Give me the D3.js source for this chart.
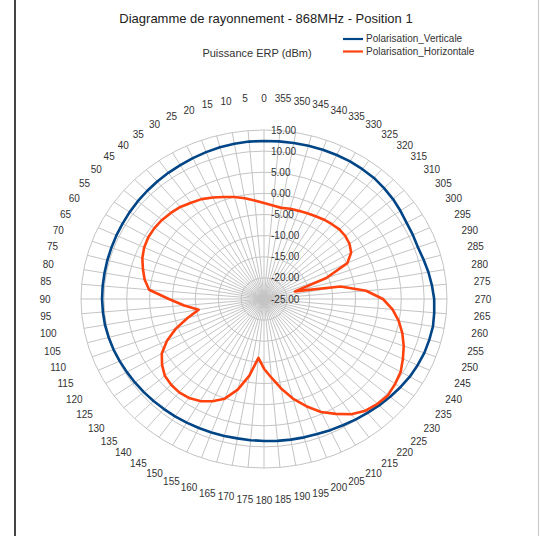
<!DOCTYPE html>
<html><head><meta charset="utf-8">
<script src="https://cdn.jsdelivr.net/npm/d3@7"></script>
<style>html,body{margin:0;padding:0;background:#fff;}svg{display:block;font-family:"Liberation Sans",Arial,sans-serif;}</style>
</head><body>
<svg id="c" width="541" height="536"></svg>
<script>
const angles = d3.range(0, 360, 5);
const angleLabels = angles.map(String);
const radialTicks = [-25, -20, -15, -10, -5, 0, 5, 10, 15];
const seriesNames = ["Polarisation_Verticale", "Polarisation_Horizontale"];
const vertical = [12.4,12.4,12.3,12.2,12.0,11.8,11.6,11.45,11.3,11.15,11.0,10.85,10.7,10.6,10.5,10.45,10.4,10.4,
  10.4,10.35,10.3,10.15,10.0,9.8,9.6,9.45,9.3,9.15,9.0,8.9,8.8,8.7,8.6,8.55,8.5,8.55,
  8.6,8.7,8.8,8.9,9.0,9.25,9.5,9.85,10.2,10.6,11.0,11.4,11.8,12.05,12.3,12.4,12.5,12.35,
  12.2,11.85,11.5,11.1,10.8,10.9,11.0,11.4,11.8,12.1,12.4,12.5,12.6,12.6,12.6,12.55,12.5,12.45];
const horizontal = [-2.3,-1.6,-0.8,0.0,0.7,1.5,2.3,2.8,3.45,3.8,4.1,4.25,4.2,3.9,3.3,2.4,1.5,0.2,
  -4.2,-7.5,-10.5,-7.7,-4.5,-1.6,0.8,2.2,3.3,3.7,3.85,3.6,2.9,1.7,0.1,-2.8,-6.6,-11.0,
  -8.5,-6.3,-3.5,-0.6,2.0,4.5,6.4,8.3,9.5,10.1,10.4,10.0,9.5,8.5,7.5,6.3,4.9,3.2,
  1.0,-2.6,-8.0,-18.0,-10.5,-4.9,-3.0,-2.2,-1.8,-1.7,-1.9,-2.1,-2.4,-2.6,-2.8,-2.9,-3.1,-2.8];
const colors = ["#004586", "#ff420e"];

const svg = d3.select("#c");
const cx = 264, cy = 299, rx = 183, ry = 169;
const r = d3.scaleLinear().domain([-25, 15]).range([0, 1]);
const a = d3.scaleLinear().domain([0, 360]).range([0, 2 * Math.PI]);
const px = (ang, v) => cx - rx * r(v) * Math.sin(a(ang));
const py = (ang, v) => cy - ry * r(v) * Math.cos(a(ang));

// frame
svg.append("line").attr("x1", 15).attr("x2", 15).attr("y1", 0).attr("y2", 536).attr("stroke", "#444").attr("stroke-width", 2);
svg.append("line").attr("x1", 538.5).attr("x2", 538.5).attr("y1", 0).attr("y2", 536).attr("stroke", "#c8c8c8").attr("stroke-width", 1);

const grid = svg.append("g").attr("fill", "none").attr("stroke", "#c4c4c4").attr("stroke-width", 1);
grid.selectAll("line").data(angles).join("line")
  .attr("x1", cx).attr("y1", cy)
  .attr("x2", d => px(d, 15)).attr("y2", d => py(d, 15));
grid.selectAll("ellipse").data(radialTicks.filter(t => t > -25)).join("ellipse")
  .attr("cx", cx).attr("cy", cy)
  .attr("rx", d => rx * r(d)).attr("ry", d => ry * r(d));

// angle labels
svg.append("g").attr("font-size", 10).attr("fill", "#333").attr("text-anchor", "middle")
  .selectAll("text").data(angles).join("text")
  .attr("x", d => cx - (rx + 36) * Math.sin(a(d)))
  .attr("y", d => cy - (ry + 32) * Math.cos(a(d)) + 3.5)
  .text((d, i) => angleLabels[i]);

// series
const line = d3.line().curve(d3.curveLinearClosed);
[vertical, horizontal].forEach((vals, k) => {
  svg.append("path")
    .attr("d", line(vals.map((v, i) => [px(angles[i], v), py(angles[i], v)])))
    .attr("fill", "none").attr("stroke", colors[k]).attr("stroke-width", 2.6)
    .attr("stroke-linejoin", "round");
});

// radial tick labels
const fmt = d3.formatLocale({decimal: ".", thousands: ",", grouping: [3], currency: ["", ""], minus: "-"}).format(".2f");
svg.append("g").attr("font-size", 10).attr("fill", "#333")
  .selectAll("text").data(radialTicks).join("text")
  .attr("x", cx + 7).attr("y", d => py(0, d) + 3.5)
  .text(d => fmt(d));

// title
svg.append("text").attr("x", 266).attr("y", 23).attr("text-anchor", "middle").attr("font-size", 13).attr("fill", "#222")
  .text("Diagramme de rayonnement - 868MHz - Position 1");
svg.append("text").attr("x", 257).attr("y", 57).attr("text-anchor", "middle").attr("font-size", 11).attr("fill", "#333")
  .text("Puissance ERP (dBm)");
// legend
const lg = svg.append("g");
seriesNames.forEach((n, k) => {
  const y = 39 + k * 12.5;
  lg.append("line").attr("x1", 343).attr("x2", 363).attr("y1", y).attr("y2", y).attr("stroke", colors[k]).attr("stroke-width", 2.2);
  lg.append("text").attr("x", 366).attr("y", y + 3).attr("font-size", 10).attr("fill", "#333").text(n);
});
</script>
</body></html>
